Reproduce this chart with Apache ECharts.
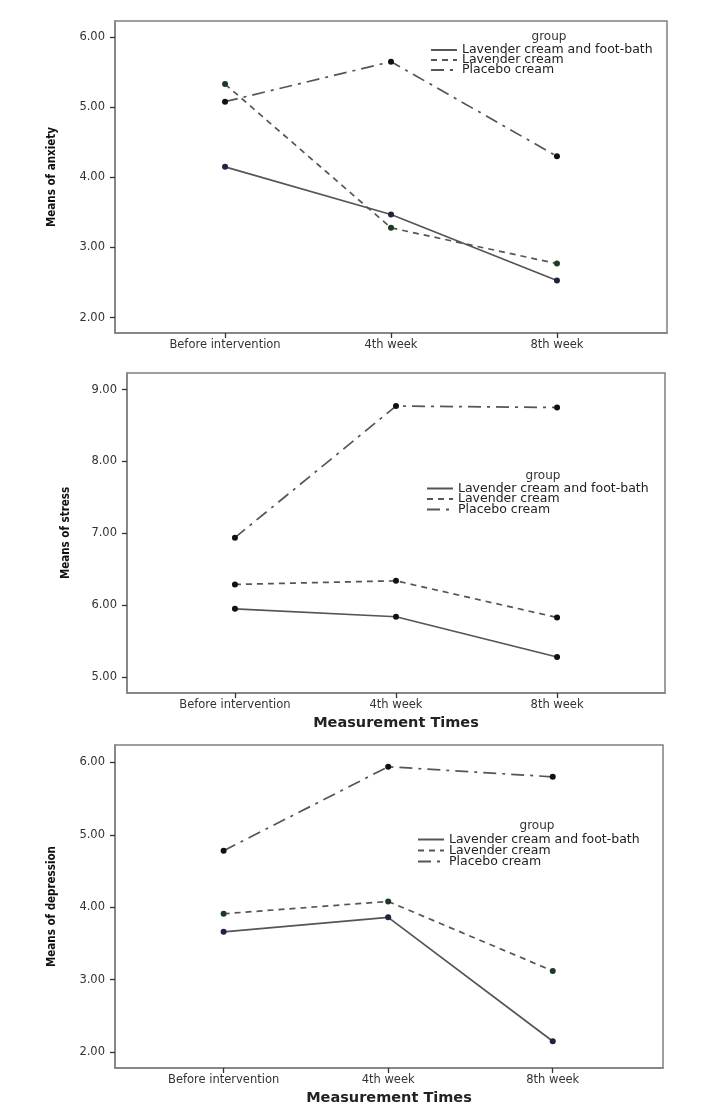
<!DOCTYPE html>
<html>
<head>
<meta charset="utf-8">
<script src="https://cdn.jsdelivr.net/npm/echarts@6/dist/echarts.min.js"></script>
<style>
html,body{margin:0;padding:0;background:#fff;}
#chart{width:718px;height:1118px;}
</style>
</head>
<body>
<div id="chart"></div>
<script>
// ---- data ----
const categories = ['Before intervention', '4th week', '8th week'];
const groups = ['Lavender cream and foot-bath', 'Lavender cream', 'Placebo cream'];

const anxietyFootBath = [4.15, 3.47, 2.53];
const anxietyCream = [5.33, 3.28, 2.77];
const anxietyPlacebo = [5.08, 5.65, 4.30];

const stressFootBath = [5.95, 5.84, 5.28];
const stressCream = [6.29, 6.34, 5.83];
const stressPlacebo = [6.94, 8.77, 8.75];

const depressionFootBath = [3.66, 3.86, 2.15];
const depressionCream = [3.91, 4.08, 3.12];
const depressionPlacebo = [4.78, 5.94, 5.80];

const anxietyTicks = [2, 3, 4, 5, 6];
const stressTicks = [5, 6, 7, 8, 9];
const depressionTicks = [2, 3, 4, 5, 6];

const yNames = ['Means of anxiety', 'Means of stress', 'Means of depression'];
const xName = 'Measurement Times';

// ---- layout / style ----
const catIdx = categories.map((c, i) => i);
const FONT = "'DejaVu Sans', 'Liberation Sans', sans-serif";
const NARROW = "'Liberation Sans Narrow', 'DejaVu Sans Condensed', 'Liberation Sans', sans-serif";

const panels = [
  { grid: { left: 115, right: 51, top: 21, height: 312 }, x: [-0.663, 2.663], y: [1.78, 6.23], ticks: anxietyTicks,
    vals: [anxietyFootBath, anxietyCream, anxietyPlacebo], yName: yNames[0], yGap: 57, xName: '',
    legend: { left: 430, top: 43.5, gap: -3 }, title: { left: 544, top: 26 },
    colors: ['#1c2442', '#1d3b22', '#111'] },
  { grid: { left: 127, right: 53, top: 373, height: 320 }, x: [-0.67, 2.67], y: [4.78, 9.23], ticks: stressTicks,
    vals: [stressFootBath, stressCream, stressPlacebo], yName: yNames[1], yGap: 55, xName: xName,
    legend: { left: 426, top: 482, gap: -2.5 }, title: { left: 538, top: 465 },
    colors: ['#111', '#111', '#111'] },
  { grid: { left: 115, right: 55, top: 745, height: 323 }, x: [-0.66, 2.67], y: [1.78, 6.24], ticks: depressionTicks,
    vals: [depressionFootBath, depressionCream, depressionPlacebo], yName: yNames[2], yGap: 57, xName: xName,
    legend: { left: 417, top: 833, gap: -2 }, title: { left: 532, top: 815 },
    colors: ['#1c2442', '#1d3b22', '#111'] }
];

const lineStyles = [
  { color: '#555', width: 1.7, type: 'solid' },
  { color: '#555', width: 1.7, type: [6, 5] },
  { color: '#555', width: 1.7, type: [13, 6, 3, 6] }
];

const option = {
  backgroundColor: '#fff',
  animation: false,
  title: [],
  legend: [],
  grid: [],
  xAxis: [],
  yAxis: [],
  series: []
};

panels.forEach((p, k) => {
  option.grid.push(Object.assign({ show: true, borderColor: '#808080', borderWidth: 1.5, containLabel: false }, p.grid));
  option.title.push({ text: 'group', left: p.title.left, top: p.title.top, textAlign: 'center',
    textStyle: { fontFamily: FONT, fontSize: 12, fontWeight: 'normal', color: '#333' } });
  option.legend.push({
    data: groups, orient: 'vertical', left: p.legend.left, top: p.legend.top,
    itemWidth: 26, itemHeight: 10, itemGap: p.legend.gap, padding: 0, selectedMode: false,
    itemStyle: { opacity: 0 },
    textStyle: { fontFamily: FONT, fontSize: 12.5, color: '#222' }
  });
  option.xAxis.push({
    type: 'value', gridIndex: k, min: p.x[0], max: p.x[1],
    name: p.xName, nameLocation: 'middle', nameGap: 23,
    nameTextStyle: { fontFamily: FONT, fontSize: 14.5, fontWeight: 'bold', color: '#222' },
    axisLine: { show: true, onZero: false, lineStyle: { color: '#808080', width: 1.5 } },
    axisTick: { show: true, length: 5, customValues: catIdx, lineStyle: { color: '#333', width: 1.3 } },
    axisLabel: { customValues: catIdx, margin: 6, fontFamily: FONT, fontSize: 11.5, color: '#333',
      formatter: v => categories[Math.round(v)] },
    splitLine: { show: false }
  });
  option.yAxis.push({
    type: 'value', gridIndex: k, min: p.y[0], max: p.y[1],
    name: p.yName, nameLocation: 'middle', nameGap: p.yGap,
    nameTextStyle: { fontFamily: NARROW, fontSize: 11.5, fontWeight: 'bold', color: '#111' },
    axisLine: { show: true, onZero: false, lineStyle: { color: '#808080', width: 1.5 } },
    axisTick: { show: true, length: 5, customValues: p.ticks, lineStyle: { color: '#333', width: 1.3 } },
    axisLabel: { customValues: p.ticks, margin: 10, fontFamily: FONT, fontSize: 11.5, color: '#333',
      formatter: v => Number(v).toFixed(2) },
    splitLine: { show: false }
  });
  p.vals.forEach((vals, j) => {
    option.series.push({
      type: 'line', name: groups[j], xAxisIndex: k, yAxisIndex: k,
      data: vals.map((v, i) => [catIdx[i], v]),
      symbol: 'circle', symbolSize: 6, showSymbol: true,
      lineStyle: lineStyles[j],
      itemStyle: { color: p.colors[j], borderWidth: 0 },
      emphasis: { disabled: true },
      z: 3 - j
    });
  });
});

const chart = echarts.init(document.getElementById('chart'), null, { renderer: 'canvas' });
chart.setOption(option);
</script>
</body>
</html>
